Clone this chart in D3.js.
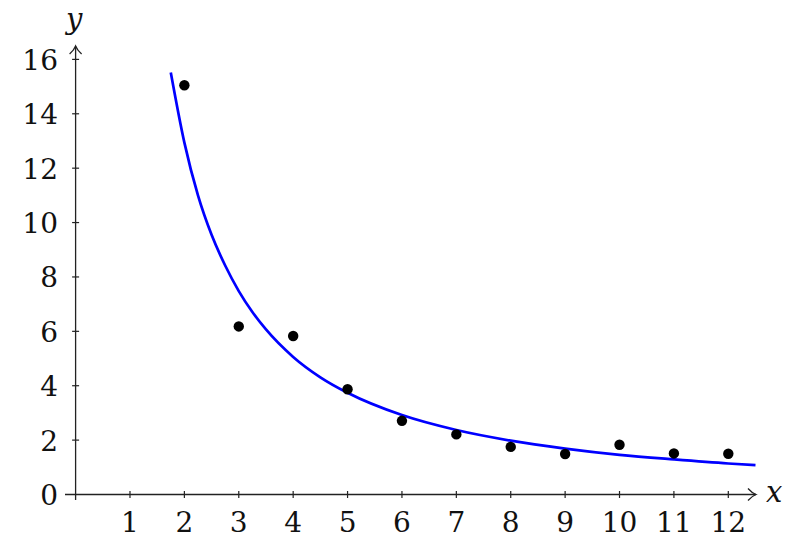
<!DOCTYPE html>
<html>
<head>
<meta charset="utf-8">
<script src="https://cdn.jsdelivr.net/npm/d3@7"></script>
<style>
  body { margin: 0; background: #fff; }
  text { font-family: "DejaVu Serif", "Liberation Serif", serif; fill: #111; }
</style>
</head>
<body>
<div class="canvas"></div>
<script>
var w = 800;
var h = 544;

// measured points
var pointX = [2, 3, 4, 5, 6, 7, 8, 9, 10, 11, 12];
var pointY = [15.05, 6.18, 5.83, 3.87, 2.71, 2.21, 1.75, 1.49, 1.83, 1.51, 1.50];

// fitted curve
var curveX = [1.75, 2, 2.25, 2.5, 2.75, 3, 3.25, 3.5, 4, 4.5, 5, 6, 7, 8, 9, 10, 11, 12, 12.5];
var curveY = [15.52, 12.94, 11.0, 9.55, 8.42, 7.48, 6.71, 6.07, 5.06, 4.31, 3.74, 2.92, 2.37, 1.98, 1.69, 1.46, 1.29, 1.14, 1.08];

var xTicks = [1, 2, 3, 4, 5, 6, 7, 8, 9, 10, 11, 12];
var yTicks = [0, 2, 4, 6, 8, 10, 12, 14, 16];

var xScale = d3.scaleLinear()
    .domain([0, 12])
    .range([75.6, 728.3]);

var yScale = d3.scaleLinear()
    .domain([0, 16])
    .range([494.5, 59.4]);

var svg = d3.select(".canvas").append("svg")
    .attr("width", w)
    .attr("height", h);

var axisColor = "#222";

// x axis line with open arrow
svg.append("line")
    .attr("x1", 65).attr("y1", yScale(0))
    .attr("x2", 756).attr("y2", yScale(0))
    .attr("stroke", axisColor).attr("stroke-width", 1.3);
svg.append("path")
    .attr("d", "M" + 748 + "," + (yScale(0) - 6) + " Q752," + (yScale(0) - 1.5) + " 756," + yScale(0) +
        " Q752," + (yScale(0) + 1.5) + " 748," + (yScale(0) + 6))
    .attr("fill", "none").attr("stroke", axisColor).attr("stroke-width", 1.3);

// y axis line with open arrow
svg.append("line")
    .attr("x1", xScale(0)).attr("y1", 500)
    .attr("x2", xScale(0)).attr("y2", 46)
    .attr("stroke", axisColor).attr("stroke-width", 1.3);
svg.append("path")
    .attr("d", "M" + (xScale(0) - 6) + ",54 Q" + (xScale(0) - 1.5) + ",50 " + xScale(0) + ",46 Q" +
        (xScale(0) + 1.5) + ",50 " + (xScale(0) + 6) + ",54")
    .attr("fill", "none").attr("stroke", axisColor).attr("stroke-width", 1.3);

// x ticks
svg.selectAll(".xtick").data(xTicks).enter().append("line")
    .attr("x1", d => xScale(d)).attr("x2", d => xScale(d))
    .attr("y1", yScale(0) - 3.5).attr("y2", yScale(0) + 3.5)
    .attr("stroke", axisColor).attr("stroke-width", 1.2);
svg.selectAll(".xlab").data(xTicks).enter().append("text")
    .attr("x", d => xScale(d))
    .attr("y", 532)
    .attr("text-anchor", "middle")
    .attr("font-size", 28)
    .text(d => d);

// y ticks
svg.selectAll(".ytick").data(yTicks.filter(d => d > 0)).enter().append("line")
    .attr("x1", xScale(0) - 3.5).attr("x2", xScale(0) + 3.5)
    .attr("y1", d => yScale(d)).attr("y2", d => yScale(d))
    .attr("stroke", axisColor).attr("stroke-width", 1.2);
svg.selectAll(".ylab").data(yTicks).enter().append("text")
    .attr("x", 58)
    .attr("y", d => yScale(d) + 10.5)
    .attr("text-anchor", "end")
    .attr("font-size", 28)
    .text(d => d);

// axis names
svg.append("text")
    .attr("x", 766).attr("y", 502)
    .attr("font-size", 29).attr("font-style", "italic")
    .text("x");
svg.append("text")
    .attr("x", 66).attr("y", 29)
    .attr("font-size", 29).attr("font-style", "italic")
    .text("y");

// fitted curve
var line = d3.line()
    .x((d, i) => xScale(curveX[i]))
    .y(d => yScale(d))
    .curve(d3.curveMonotoneX);

svg.append("path")
    .datum(curveY)
    .attr("d", line)
    .attr("fill", "none")
    .attr("stroke", "#0000ff")
    .attr("stroke-width", 2.7);

// data points
svg.selectAll(".pt").data(pointY).enter().append("circle")
    .attr("cx", (d, i) => xScale(pointX[i]))
    .attr("cy", d => yScale(d))
    .attr("r", 5.2)
    .attr("fill", "#000");
</script>
</body>
</html>
